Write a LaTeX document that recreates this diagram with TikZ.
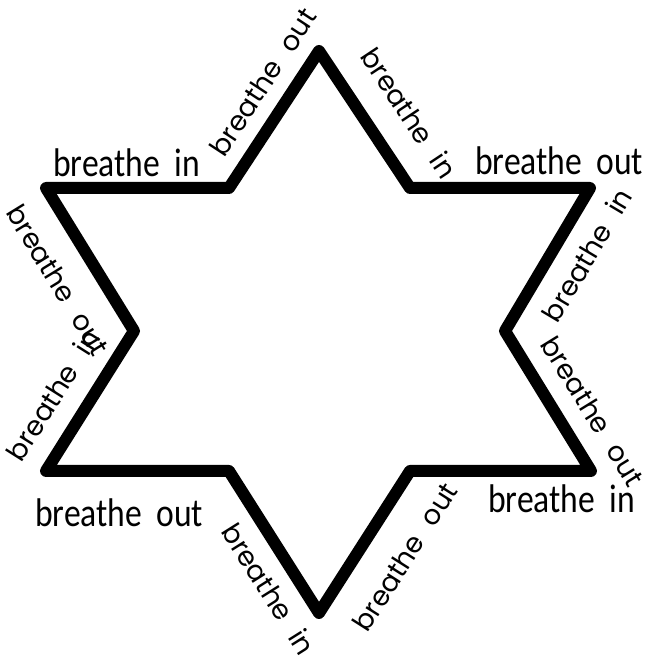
\documentclass[tikz,border=0pt]{standalone}
\usepackage{fontspec}
\newfontfamily\flatfont[FakeStretch=0.84]{Carlito}
\newfontfamily\roundfont{Poppins}
\newcommand{\wsp}{\hspace{0.35em}}
\newcommand{\wgap}{\hspace{0.6em}}
\usepackage{tikz}

\begin{document}
\begin{tikzpicture}[x=0.75pt, y=0.75pt,
  star/.style={draw, line width=9pt, line join=round},
  flat/.style={anchor=base west, inner sep=0pt, font=\flatfont\fontsize{30}{30}\selectfont},
  slant/.style={inner sep=0pt, font=\roundfont\fontsize{20.5}{20.5}\selectfont}]
  \useasboundingbox (0,0) rectangle (649,660);
  % star corners
  \coordinate (T) at (319,609);
  \coordinate (A) at (410,472);
  \coordinate (B) at (590,472);
  \coordinate (C) at (505,329);
  \coordinate (D) at (591,189);
  \coordinate (E) at (410,189);
  \coordinate (F) at (319,47);
  \coordinate (G) at (229,189);
  \coordinate (H) at (46,189);
  \coordinate (I) at (134,329);
  \coordinate (J) at (46,472);
  \coordinate (K) at (229,472);
  \draw[star] (T) -- (A) -- (B) -- (C) -- (D) -- (E) -- (F) -- (G) -- (H) -- (I) -- (J) -- (K) -- cycle;
  % straight labels
  \node[flat] (inTL) at (53,483) {breathe\wsp in};
  \node[flat] (outTR) at (475,485) {breathe\wsp out};
  \node[flat] (inBR) at (488,147) {breathe\wsp in};
  \node[flat] (outBL) at (35,133) {breathe\wsp out};
  % slanted labels
  \node[slant, rotate=56.7] (outKT) at (263,578) {breathe\wgap out};
  \node[slant, rotate=-56.4] (inTA) at (409,547) {breathe\wgap in};
  \node[slant, rotate=59.3] (inCB) at (587,405) {breathe\wgap in};
  \node[slant, rotate=-58.3] (outCD) at (593,249) {breathe\wgap out};
  \node[slant, rotate=57.5] (outFE) at (405,103) {breathe\wgap out};
  \node[slant, rotate=-57.8] (inGF) at (269,71) {breathe\wgap in};
  \node[slant, rotate=57.7] (inHI) at (53,265) {breathe\wgap in};
  \node[slant, rotate=-58.4] (outJI) at (58,380) {breathe\wgap out};
\end{tikzpicture}
\end{document}
